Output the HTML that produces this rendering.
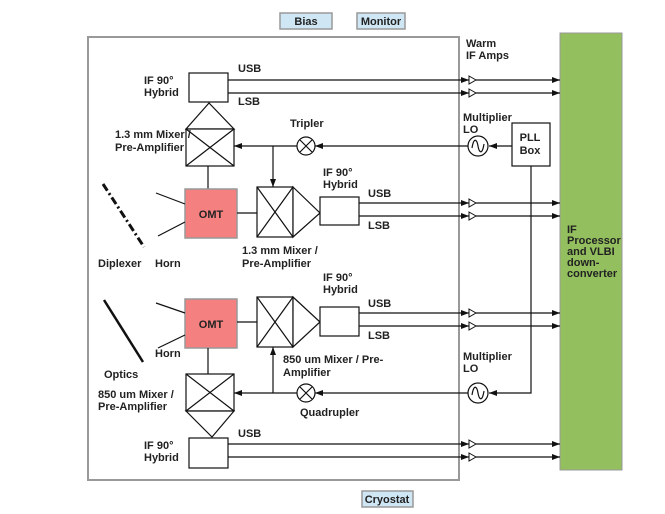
<!DOCTYPE html>
<html><head><meta charset="utf-8"><style>
html,body{margin:0;padding:0;background:#fff}
svg{display:block}
text{font-family:"Liberation Sans",sans-serif;font-size:11px;font-weight:bold;fill:#222}
</style></head><body>
<svg width="665" height="514" viewBox="0 0 665 514" xmlns="http://www.w3.org/2000/svg">
<defs>
<marker id="a" markerWidth="8" markerHeight="6" refX="8" refY="3" orient="auto" markerUnits="userSpaceOnUse"><path d="M0,0 L8,3 L0,6 Z" fill="#111"/></marker>
<g id="amp"><path d="M0,-4 L7,0 L0,4 Z" fill="#fff" stroke="#111" stroke-width="1"/></g>
</defs>
<!-- top labels -->
<rect x="280" y="13" width="52" height="16" fill="#cfe6f5" stroke="#999" stroke-width="1.5"/>
<text x="306" y="25" text-anchor="middle">Bias</text>
<rect x="357" y="13" width="48" height="16" fill="#cfe6f5" stroke="#999" stroke-width="1.5"/>
<text x="381" y="25" text-anchor="middle">Monitor</text>
<rect x="362" y="491" width="51" height="16" fill="#cfe6f5" stroke="#999" stroke-width="1.5"/>
<text x="387" y="503" text-anchor="middle">Cryostat</text>
<!-- cryostat -->
<rect x="88" y="37" width="371" height="443" fill="none" stroke="#999" stroke-width="2"/>
<!-- green -->
<rect x="560" y="33" width="62" height="437" fill="#93bf5e" stroke="#999" stroke-width="1"/>
<text x="567" y="233" font-size="9">IF</text>
<text x="567" y="244" font-size="9">Processor</text>
<text x="567" y="255" font-size="9">and VLBI</text>
<text x="567" y="266" font-size="9">down-</text>
<text x="567" y="277" font-size="9">converter</text>

<g stroke="#111" stroke-width="1.2" fill="none">
<!-- signal lines -->
<g marker-end="url(#a)">
<line x1="228" y1="80" x2="469" y2="80"/><line x1="228" y1="93" x2="469" y2="93"/>
<line x1="359" y1="203" x2="469" y2="203"/><line x1="359" y1="216" x2="469" y2="216"/>
<line x1="359" y1="313" x2="469" y2="313"/><line x1="359" y1="326" x2="469" y2="326"/>
<line x1="228" y1="444" x2="469" y2="444"/><line x1="228" y1="457" x2="469" y2="457"/>
<line x1="476" y1="80" x2="560" y2="80"/><line x1="476" y1="93" x2="560" y2="93"/>
<line x1="476" y1="203" x2="560" y2="203"/><line x1="476" y1="216" x2="560" y2="216"/>
<line x1="476" y1="313" x2="560" y2="313"/><line x1="476" y1="326" x2="560" y2="326"/>
<line x1="476" y1="444" x2="560" y2="444"/><line x1="476" y1="457" x2="560" y2="457"/>
</g>
</g>
<g>
<use href="#amp" x="469" y="80"/><use href="#amp" x="469" y="93"/>
<use href="#amp" x="469" y="203"/><use href="#amp" x="469" y="216"/>
<use href="#amp" x="469" y="313"/><use href="#amp" x="469" y="326"/>
<use href="#amp" x="469" y="444"/><use href="#amp" x="469" y="457"/>
</g>

<g stroke="#111" stroke-width="1.2" fill="#fff">
<!-- top hybrid + mixer -->
<rect x="189" y="73" width="39" height="29"/>
<path d="M209,103 L186,129 L234,129 Z"/>
<rect x="186" y="129" width="48" height="37"/>
<path d="M186,129 L234,166 M234,129 L186,166" fill="none"/>
<line x1="208" y1="166" x2="208" y2="189"/>
<!-- OMT1 -->
<rect x="185" y="189" width="52" height="49" fill="#f58080" stroke="#999" stroke-width="1.5"/>
<line x1="156" y1="193" x2="185" y2="204"/><line x1="158" y1="236" x2="185" y2="222"/>
<line x1="237" y1="213" x2="257" y2="213"/>
<!-- mixer2 -->
<rect x="257" y="187" width="36" height="50"/>
<path d="M257,187 L293,237 M293,187 L257,237" fill="none"/>
<path d="M293,187 L320,213 L293,237 Z"/>
<rect x="320" y="197" width="39" height="28"/>
<!-- LO top -->
<line x1="512" y1="146" x2="489" y2="146" marker-end="url(#a)"/>
<line x1="468" y1="146" x2="315" y2="146" marker-end="url(#a)"/>
<line x1="297" y1="146" x2="234" y2="146" marker-end="url(#a)"/>
<line x1="273" y1="146" x2="273" y2="187" marker-end="url(#a)"/>
<circle cx="306" cy="146" r="9"/>
<path d="M300,140 L312,152 M312,140 L300,152" fill="none"/>
<circle cx="478" cy="146" r="10"/>
<path d="M472,148 C474,136 477,140 478,146 C479,152 482,156 484,144" fill="none"/>
<rect x="512" y="123" width="38" height="43"/>
<!-- PLL vertical -->
<path d="M531,166 L531,393 L489,393" fill="none" marker-end="url(#a)"/>
<circle cx="478" cy="393" r="10"/>
<path d="M472,395 C474,383 477,387 478,393 C479,399 482,403 484,391" fill="none"/>
<line x1="468" y1="393" x2="315" y2="393" marker-end="url(#a)"/>
<line x1="297" y1="393" x2="234" y2="393" marker-end="url(#a)"/>
<line x1="273" y1="393" x2="273" y2="347" marker-end="url(#a)"/>
<circle cx="306" cy="393" r="9"/>
<path d="M300,387 L312,399 M312,387 L300,399" fill="none"/>
<!-- lower -->
<rect x="185" y="299" width="52" height="49" fill="#f58080" stroke="#999" stroke-width="1.5"/>
<line x1="156" y1="303" x2="185" y2="313"/><line x1="158" y1="348" x2="185" y2="335"/>
<line x1="237" y1="322" x2="257" y2="322"/>
<rect x="257" y="297" width="36" height="50"/>
<path d="M257,297 L293,347 M293,297 L257,347" fill="none"/>
<path d="M293,297 L320,322 L293,347 Z"/>
<rect x="320" y="307" width="39" height="29"/>
<line x1="208" y1="348" x2="208" y2="374"/>
<rect x="186" y="374" width="48" height="37"/>
<path d="M186,374 L234,411 M234,374 L186,411" fill="none"/>
<path d="M186,411 L234,411 L212,437 Z"/>
<rect x="189" y="438" width="39" height="30"/>
</g>
<!-- optics lines -->
<line x1="103" y1="184" x2="144" y2="247" stroke="#111" stroke-width="3" stroke-dasharray="8,3,2,3"/>
<line x1="104" y1="300" x2="143" y2="362" stroke="#111" stroke-width="2.5"/>

<!-- text -->
<text x="211" y="218" text-anchor="middle" font-size="11">OMT</text>
<text x="211" y="328" text-anchor="middle" font-size="11">OMT</text>
<text x="530" y="141" text-anchor="middle">PLL</text>
<text x="530" y="154" text-anchor="middle">Box</text>
<text x="144" y="84">IF 90°</text><text x="144" y="96">Hybrid</text>
<text x="238" y="72">USB</text><text x="238" y="105">LSB</text>
<text x="115" y="138">1.3 mm Mixer /</text><text x="115" y="151">Pre-Amplifier</text>
<text x="290" y="127">Tripler</text>
<text x="466" y="47">Warm</text><text x="466" y="59">IF Amps</text>
<text x="463" y="121">Multiplier</text><text x="463" y="133">LO</text>
<text x="323" y="176">IF 90°</text><text x="323" y="188">Hybrid</text>
<text x="368" y="197">USB</text><text x="368" y="229">LSB</text>
<text x="242" y="254">1.3 mm Mixer /</text><text x="242" y="267">Pre-Amplifier</text>
<text x="98" y="267">Diplexer</text><text x="155" y="267">Horn</text>
<text x="323" y="281">IF 90°</text><text x="323" y="293">Hybrid</text>
<text x="368" y="307">USB</text><text x="368" y="339">LSB</text>
<text x="155" y="357">Horn</text>
<text x="104" y="378">Optics</text>
<text x="283" y="363">850 um Mixer / Pre-</text><text x="283" y="376">Amplifier</text>
<text x="463" y="360">Multiplier</text><text x="463" y="372">LO</text>
<text x="98" y="398">850 um Mixer /</text><text x="98" y="410">Pre-Amplifier</text>
<text x="300" y="416">Quadrupler</text>
<text x="238" y="437">USB</text>
<text x="144" y="449">IF 90°</text><text x="144" y="461">Hybrid</text>
</svg>
</body></html>
